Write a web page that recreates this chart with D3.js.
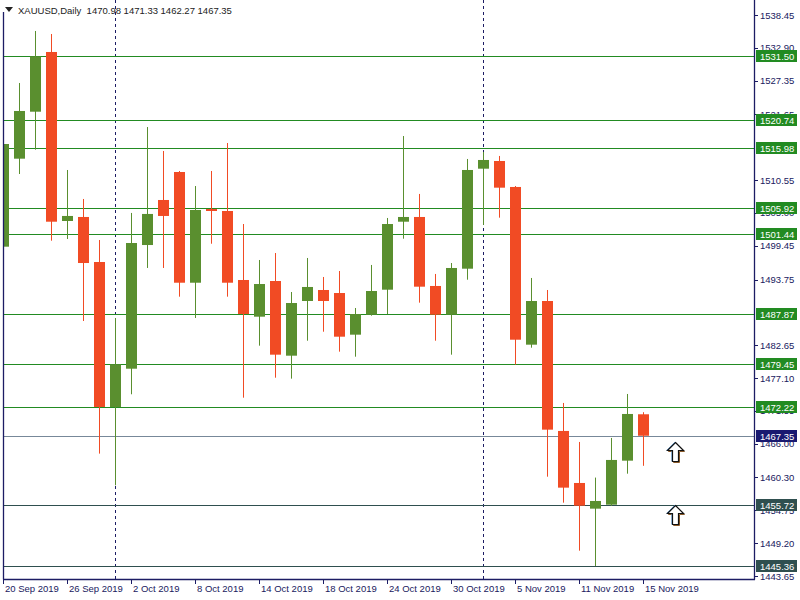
<!DOCTYPE html>
<html>
<head>
<meta charset="utf-8">
<script src="https://cdn.jsdelivr.net/npm/d3@7"></script>
<style>
  html, body { margin: 0; padding: 0; background: #fff; }
  svg { display: block; }
  text { font-family: "Liberation Sans", Arial, sans-serif; }
</style>
</head>
<body>
<svg id="chart" width="800" height="600"></svg>
<script>
// ---------- data ----------
const opens = [1499.30, 1514.17, 1522.11, 1532.20, 1503.64, 1504.32, 1496.71, 1472.21, 1478.68, 1499.58,
  1507.19, 1511.92, 1493.21, 1505.67, 1505.33, 1493.67, 1487.47, 1493.50, 1480.88, 1490.12,
  1491.98, 1491.47, 1484.43, 1487.81, 1492.03, 1503.52, 1504.32, 1492.66, 1487.81, 1495.58,
  1512.48, 1513.78, 1509.39, 1482.74, 1490.12, 1468.16, 1459.37, 1455.03, 1455.70, 1463.14, 1470.98];
const highs = [1517.16, 1526.96, 1535.75, 1535.24, 1512.26, 1507.36, 1500.43, 1487.25, 1505.00, 1519.52,
  1515.47, 1512.09, 1509.55, 1512.09, 1516.82, 1503.13, 1497.05, 1498.23, 1491.64, 1497.39,
  1494.18, 1495.19, 1488.94, 1496.21, 1504.15, 1518.00, 1508.21, 1494.69, 1496.54, 1514.12,
  1515.30, 1514.63, 1509.55, 1494.01, 1491.98, 1472.89, 1466.30, 1460.28, 1466.98, 1474.41, 1471.33];
const lows = [1498.06, 1511.58, 1515.69, 1500.31, 1500.60, 1486.74, 1464.33, 1458.98, 1474.36, 1495.70,
  1495.70, 1490.85, 1487.25, 1499.80, 1490.85, 1473.78, 1482.57, 1477.16, 1477.00, 1483.41,
  1484.93, 1481.56, 1480.71, 1487.64, 1487.92, 1500.65, 1489.84, 1483.41, 1481.05, 1493.72,
  1502.97, 1504.20, 1479.36, 1482.23, 1460.43, 1456.04, 1447.93, 1445.34, 1455.50, 1460.94, 1462.27];
const closes = [1516.65, 1522.23, 1531.47, 1503.52, 1504.49, 1496.54, 1472.21, 1479.42, 1499.92, 1504.83,
  1504.49, 1493.21, 1505.50, 1505.33, 1493.21, 1487.92, 1492.99, 1481.05, 1489.78, 1492.49,
  1490.12, 1484.09, 1487.92, 1491.81, 1503.13, 1504.32, 1492.54, 1487.81, 1495.70, 1512.26,
  1513.95, 1509.27, 1483.58, 1490.12, 1468.38, 1458.58, 1455.53, 1456.33, 1463.26, 1471.03, 1467.35];

const dateLabels = ["20 Sep 2019", "26 Sep 2019", "2 Oct 2019", "8 Oct 2019", "14 Oct 2019", "18 Oct 2019",
  "24 Oct 2019", "30 Oct 2019", "5 Nov 2019", "11 Nov 2019", "15 Nov 2019"];
const dateLabelBars = [0, 4, 8, 12, 16, 20, 24, 28, 32, 36, 40];

const priceTicks = [1538.45, 1532.90, 1527.35, 1521.65, 1510.55, 1505.00, 1499.45, 1493.75,
  1482.65, 1477.10, 1471.55, 1466.00, 1460.30, 1454.75, 1449.20, 1443.65];

const levelPrices = [1531.50, 1520.74, 1515.98, 1505.92, 1501.44, 1487.87, 1479.45, 1472.22, 1467.35, 1455.72, 1445.36];
const levelKinds  = ["g", "g", "g", "g", "g", "g", "g", "g", "bid", "s", "s"];

const separatorBars = [7, 30];     // 1 Oct, 1 Nov
const arrowBar = 42;
const arrowPrices = [1466.3, 1455.65];

const title = "XAUUSD,Daily  1470.98 1471.33 1462.27 1467.35";

// ---------- layout ----------
const plotLeft = 3, plotRight = 754, plotTop = 0, plotBottom = 579;
const UP = "#5a8f2f", DOWN = "#f14b24", AXIS = "#1c1c64", TXT = "#20205e";
const levelColor = { g: "#228b22", bid: "#778899", s: "#2f4f4f" };
const boxColor   = { g: "#228b22", bid: "#191970", s: "#2f4f4f" };

const svg = d3.select("#chart");
const x = d3.scaleLinear().domain([0, 40]).range([3.3, 643.3]);
const y = d3.scaleLinear().domain([1443.65, 1538.45]).range([576, 15]);

svg.append("defs").append("clipPath").attr("id", "plot")
  .append("rect").attr("x", plotLeft + 0.5).attr("y", plotTop)
  .attr("width", plotRight - plotLeft - 0.5).attr("height", plotBottom - plotTop);

const plot = svg.append("g").attr("clip-path", "url(#plot)");

// separators
plot.selectAll("line.sep").data(separatorBars).enter().append("line")
  .attr("x1", d => Math.round(x(d)) + 0.5).attr("x2", d => Math.round(x(d)) + 0.5)
  .attr("y1", plotTop).attr("y2", plotBottom)
  .attr("stroke", AXIS).attr("stroke-width", 1).attr("stroke-dasharray", "3,3");

// horizontal levels
plot.selectAll("line.lvl").data(levelPrices).enter().append("line")
  .attr("x1", plotLeft).attr("x2", plotRight)
  .attr("y1", d => Math.round(y(d)) + 0.5).attr("y2", d => Math.round(y(d)) + 0.5)
  .attr("stroke", (d, i) => levelColor[levelKinds[i]]).attr("stroke-width", 1);

// candles
const idx = d3.range(opens.length);
const bodyW = 11;
plot.selectAll("line.wick").data(idx).enter().append("line")
  .attr("x1", i => Math.round(x(i)) + 0.5).attr("x2", i => Math.round(x(i)) + 0.5)
  .attr("y1", i => y(highs[i])).attr("y2", i => y(lows[i]))
  .attr("stroke", i => closes[i] >= opens[i] ? UP : DOWN).attr("stroke-width", 1);
plot.selectAll("rect.body").data(idx).enter().append("rect")
  .attr("x", i => Math.round(x(i)) + 0.5 - bodyW / 2)
  .attr("width", bodyW)
  .attr("y", i => y(Math.max(opens[i], closes[i])))
  .attr("height", i => Math.max(1.5, Math.abs(y(opens[i]) - y(closes[i]))))
  .attr("fill", i => closes[i] >= opens[i] ? UP : DOWN);

// arrows
const arrowPath = "M0,0 L8,8 L3,8 L3,19 L-3,19 L-3,8 L-8,8 Z";
arrowPrices.forEach(p => {
  const g = plot.append("g").attr("transform", `translate(${Math.round(x(arrowBar)) + 0.5},${Math.round(y(p)) + 0.5})`);
  g.append("path").attr("d", arrowPath).attr("transform", "translate(1,1)")
    .attr("fill", "none").attr("stroke", "#8a5a2a").attr("stroke-width", 1);
  g.append("path").attr("d", arrowPath).attr("transform", "translate(-0.7,-0.3)")
    .attr("fill", "none").attr("stroke", "#4a90d0").attr("stroke-width", 0.8);
  g.append("path").attr("d", arrowPath).attr("fill", "#fff")
    .attr("stroke", "#111").attr("stroke-width", 1.2);
});

// frame
svg.append("line").attr("x1", plotLeft + 0.5).attr("x2", plotLeft + 0.5).attr("y1", 12).attr("y2", plotBottom + 0.5)
  .attr("stroke", AXIS).attr("stroke-width", 1.3);
svg.append("line").attr("x1", plotRight + 0.5).attr("x2", plotRight + 0.5).attr("y1", 0).attr("y2", plotBottom + 0.5)
  .attr("stroke", AXIS).attr("stroke-width", 1.3);
svg.append("line").attr("x1", plotLeft).attr("x2", plotRight + 1).attr("y1", plotBottom + 0.5).attr("y2", plotBottom + 0.5)
  .attr("stroke", AXIS).attr("stroke-width", 1.3);

// right price axis
const ra = svg.append("g");
ra.selectAll("line.pt").data(priceTicks).enter().append("line")
  .attr("x1", plotRight).attr("x2", plotRight + 4)
  .attr("y1", d => Math.round(y(d)) + 0.5).attr("y2", d => Math.round(y(d)) + 0.5)
  .attr("stroke", AXIS);
ra.selectAll("text.pt").data(priceTicks).enter().append("text")
  .attr("x", 760).attr("y", d => y(d) + 3.5)
  .attr("font-size", "9.5px").attr("fill", TXT)
  .text(d => d.toFixed(2));

// level price boxes
levelPrices.forEach((p, i) => {
  const yy = Math.round(y(p));
  ra.append("rect").attr("x", 756).attr("y", yy - 6).attr("width", 41).attr("height", 12)
    .attr("fill", boxColor[levelKinds[i]]);
  ra.append("text").attr("x", 760).attr("y", yy + 3.5)
    .attr("font-size", "9.5px").attr("fill", "#fff").text(p.toFixed(2));
});

// bottom date axis
const ba = svg.append("g");
ba.selectAll("line.dt").data(dateLabelBars).enter().append("line")
  .attr("x1", d => Math.round(x(d)) + 0.5).attr("x2", d => Math.round(x(d)) + 0.5)
  .attr("y1", plotBottom).attr("y2", plotBottom + 5)
  .attr("stroke", AXIS);
ba.selectAll("text.dt").data(dateLabelBars).enter().append("text")
  .attr("x", d => Math.round(x(d)) + 2).attr("y", 592)
  .attr("font-size", "9.5px").attr("fill", TXT)
  .text((d, i) => dateLabels[i]);

// title
svg.append("path").attr("d", "M5,7 L13,7 L9,12 Z").attr("fill", "#222");
svg.append("text").attr("x", 18).attr("y", 14).attr("font-size", "9.5px").attr("fill", "#222")
  .attr("xml:space", "preserve").style("white-space", "pre").text(title);
</script>
</body>
</html>
